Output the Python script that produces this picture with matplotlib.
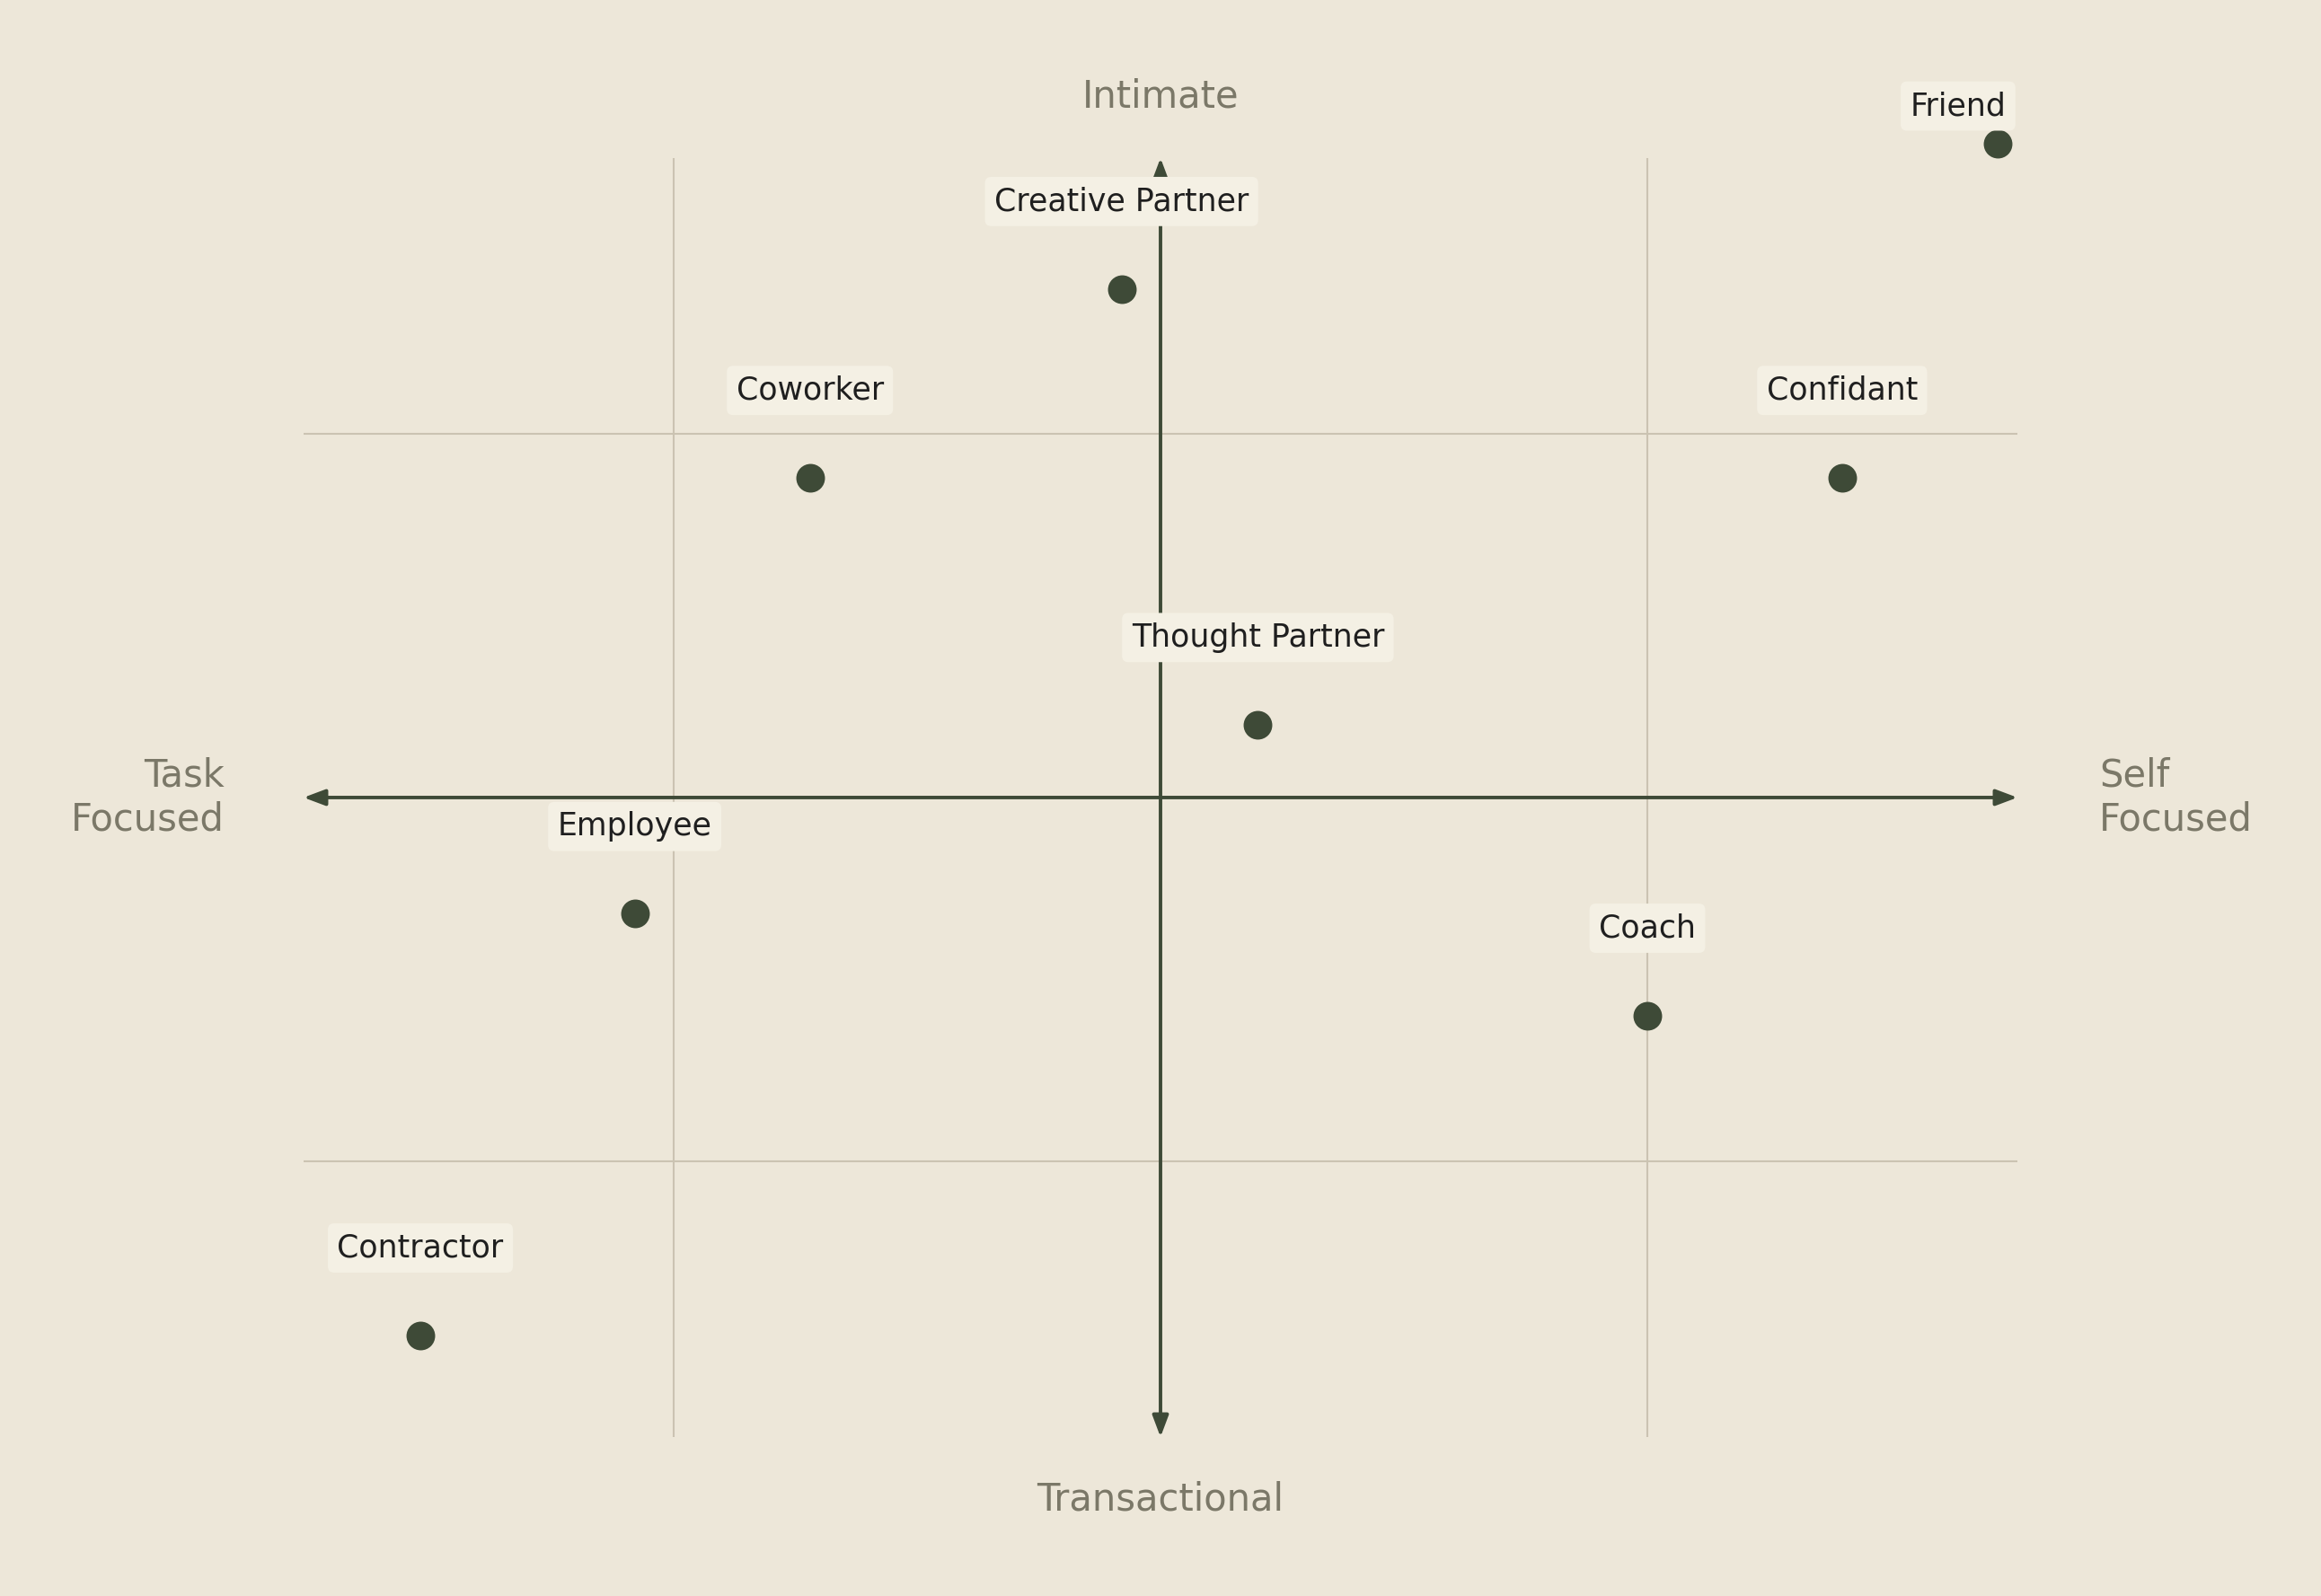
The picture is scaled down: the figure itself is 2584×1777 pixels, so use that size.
import matplotlib.pyplot as plt

# roles placed on two axes: task -> self focused (x), transactional -> intimate (y)
roles = [
    "Friend",
    "Creative Partner",
    "Coworker",
    "Confidant",
    "Thought Partner",
    "Employee",
    "Coach",
    "Contractor",
]
self_focus = [1.72, -0.08, -0.72, 1.40, 0.20, -1.08, 1.00, -1.52]
intimacy = [1.80, 1.40, 0.88, 0.88, 0.20, -0.32, -0.60, -1.48]

bg = "#ede7d9"
ink = "#3e4a37"
muted = "#7b7868"
grid_c = "#cbc3b2"
L = 1.76

fig = plt.figure(figsize=(12.92, 8.885), dpi=200, facecolor=bg)
ax = fig.add_axes([0.1308, 0.0996, 0.7384, 0.8014])
ax.set_facecolor(bg)
ax.set_xlim(-L, L)
ax.set_ylim(-L, L)

# quadrant guides
ax.set_xticks([-1, 1])
ax.set_yticks([-1, 1])
ax.grid(True, color=grid_c, linewidth=0.75)
ax.tick_params(length=0, labelbottom=False, labelleft=False)
for s in ax.spines.values():
    s.set_visible(False)

# main axes with arrow heads
arrow = dict(arrowstyle="<|-|>,head_length=0.4,head_width=0.15",
             color=ink, lw=1.4, mutation_scale=18, shrinkA=0, shrinkB=0)
ax.annotate("", xy=(L, 0), xytext=(-L, 0), arrowprops=arrow, zorder=2)
ax.annotate("", xy=(0, L), xytext=(0, -L), arrowprops=arrow, zorder=2)

ax.scatter(self_focus, intimacy, s=110, color=ink, zorder=4, clip_on=False)

box = dict(boxstyle="round,pad=0.3,rounding_size=0.2", facecolor="#f4f0e4",
           edgecolor="none")
for name, x, y in zip(roles, self_focus, intimacy):
    off = (0, 35)
    if name == "Friend":
        off = (-16, 15)  # keep the label inside the plot
    ax.annotate(name, (x, y), xytext=off, textcoords="offset points",
                ha="center", va="center", fontsize=12.5, color="#1f1f1f",
                bbox=box, zorder=5, annotation_clip=False)

# axis names
ax.text(0.5, 1.0396, "Intimate", transform=ax.transAxes, ha="center",
        va="baseline", fontsize=15, color=muted)
ax.text(0.5, -0.0573, "Transactional", transform=ax.transAxes, ha="center",
        va="baseline", fontsize=15, color=muted)
ax.text(-0.0461, 0.5, "Task\nFocused", transform=ax.transAxes, ha="right",
        va="center", fontsize=15, color=muted, multialignment="right")
ax.text(1.0477, 0.5, "Self\nFocused", transform=ax.transAxes, ha="left",
        va="center", fontsize=15, color=muted, multialignment="left")

fig.savefig("out.png", dpi=200, facecolor=bg)
